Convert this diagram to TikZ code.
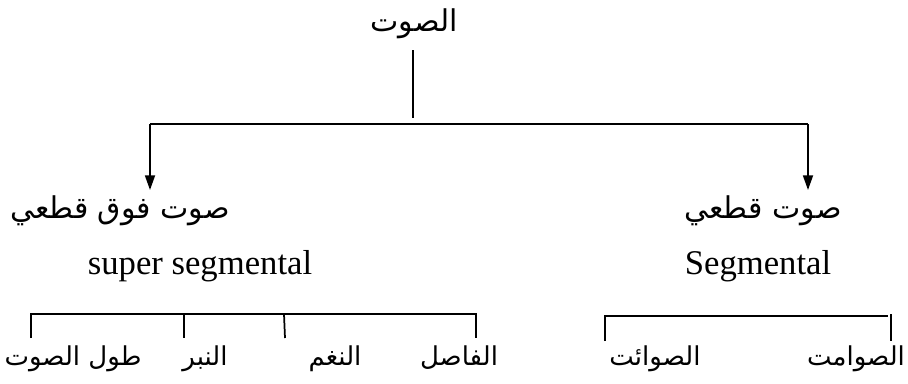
\documentclass[tikz,border=0pt]{standalone}
\usepackage{fontspec}
\setmainfont{Liberation Serif}
\newfontfamily\arabicfont[Script=Arabic]{DejaVu Sans}
\TeXXeTstate=1
\usetikzlibrary{arrows.meta}
\begin{document}
\begin{tikzpicture}[x=0.75pt,y=-0.75pt,
  ln/.style={line width=1.3pt},
  arr/.style={ln,-{Triangle[width=7.5pt,length=11pt]}},
  ar/.style={font=\arabicfont\fontsize{22.5}{26}\selectfont, inner sep=0pt, anchor=base},
  arsm/.style={font=\arabicfont\fontsize{19.5}{23}\selectfont, inner sep=0pt, anchor=base},
  lat/.style={font=\fontsize{26}{30}\selectfont, inner sep=0pt, anchor=base}]
\useasboundingbox (0,0) rectangle (908,383);
% nodes
\node[ar] (root) at (414,31) {\beginR الصوت\endR};
\node[ar] (supra) at (120,218) {\beginR صوت فوق قطعي\endR};
\node[ar] (seg) at (763,218) {\beginR صوت قطعي\endR};
\node[lat] (supraL) at (200,274) {super segmental};
\node[lat] (segL) at (758,274) {Segmental};
\node[arsm] (c1) at (73,365) {\beginR طول الصوت\endR};
\node[arsm] (c2) at (205,365) {\beginR النبر\endR};
\node[arsm] (c3) at (335,365) {\beginR النغم\endR};
\node[arsm] (c4) at (459,365) {\beginR الفاصل\endR};
\node[arsm] (d1) at (655,365) {\beginR الصوائت\endR};
\node[arsm] (d2) at (856,365) {\beginR الصوامت\endR};
% top connectors
\coordinate (v1) at (413,50);
\coordinate (v2) at (413,118);
\coordinate (hl) at (150,124);
\coordinate (hr) at (808,124);
\coordinate (al) at (150,190);
\coordinate (ar2) at (808,190);
\draw[ln] (v1) -- (v2);
\draw[ln] (hl) -- (hr);
\draw[arr] (hl) -- (al);
\draw[arr] (hr) -- (ar2);
% left bracket
\coordinate (b1) at (31,314);
\coordinate (b2) at (184,314);
\coordinate (b3) at (284,314);
\coordinate (b4) at (476,314);
\draw[ln] (31,338) -- (b1) -- (b4) -- (476,338);
\draw[ln] (b2) -- (184,338);
\draw[ln] (b3) -- (285,338);
% right bracket
\coordinate (r1) at (605,316);
\coordinate (r2) at (888,316);
\draw[ln] (605,341) -- (r1) -- (r2);
\draw[ln] (891,314) -- (891,341);
\end{tikzpicture}
\end{document}
